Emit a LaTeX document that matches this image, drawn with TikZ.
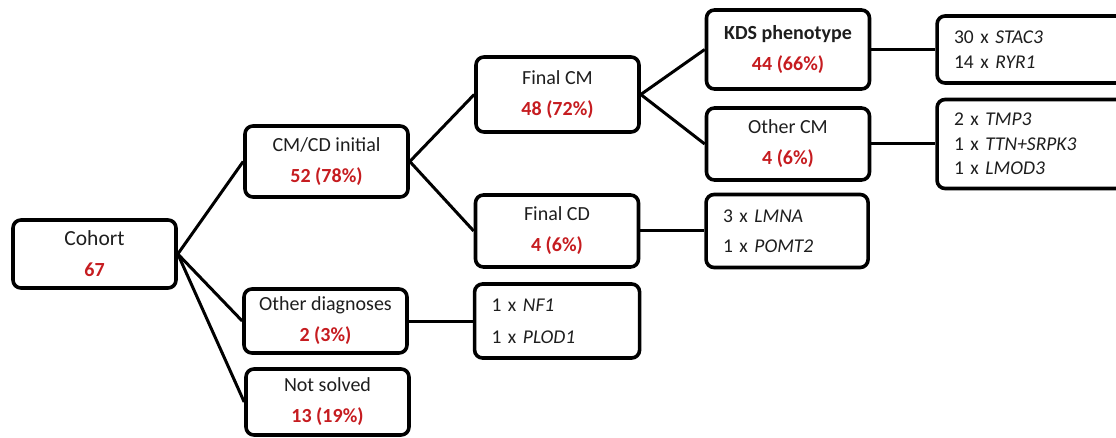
\documentclass[tikz,border=0pt]{standalone}
\usepackage{fontspec}
\setmainfont{Carlito}
\usetikzlibrary{positioning}
\definecolor{pct}{RGB}{198,28,32}
\definecolor{ink}{RGB}{30,30,30}
\tikzstyle{catbox}=[draw=black,line width=3.6pt,rounded corners=8pt,fill=white,text=ink,align=center,minimum width=163pt,inner sep=2pt,font=\fontsize{20}{31}\selectfont]
\tikzstyle{genebox}=[draw=black,line width=3.6pt,rounded corners=8pt,fill=white,text=ink,align=left,inner xsep=17pt,inner ysep=2pt,font=\fontsize{19.5}{24.5}\selectfont]
\newcommand{\category}[5]{\node[catbox,minimum height=#4] (#1) at #5 {#2\\{\color{pct}\bfseries #3}};}
\newcommand{\genes}[3]{\node[genebox,#3] (#1) {#2};}
\newcommand{\myedge}[2]{\draw[line width=3pt] (#1.east) -- (#2.west);}
\tikzset{node distance=64pt}

\begin{document}
\begin{tikzpicture}[x=1pt,y=-1pt]
    \clip (0,0) rectangle (1116,438);

    \category{cohort}{{\fontsize{21.5}{31}\selectfont Cohort}}{67}{68pt}{(94.5,254)}
    \category{cmcd}{CM/CD initial}{52 (78\%)}{71pt}{(326.5,161.5)}
    \category{otherdx}{Other diagnoses}{2 (3\%)}{64pt}{(325.5,321)}
    \category{unsolved}{Not solved}{13 (19\%)}{66pt}{(327.5,402)}
    \category{finalcm}{Final CM}{48 (72\%)}{75pt}{(557.5,94.5)}
    \category{finalcd}{Final CD}{4 (6\%)}{72pt}{(557,231)}
    \category{kds}{\textbf{KDS phenotype}}{44 (66\%)}{79pt}{(788,49.5)}
    \category{othercm}{Other CM}{4 (6\%)}{72pt}{(788,144)}

    \genes{kdsgenes}{30 x \textit{STAC3}\\14 x \textit{RYR1}}{right=of kds,text width=200pt,minimum height=67pt}
    \genes{cmgenes}{2 x \textit{TMP3}\\1 x \textit{TTN+SRPK3}\\1 x \textit{LMOD3}}{right=of othercm,text width=200pt,minimum height=89pt}
    \genes{cdgenes}{3 x \textit{LMNA}\\[5.5pt]1 x \textit{POMT2}}{right=of finalcd,text width=128pt,minimum height=73pt}
    \genes{dxgenes}{1 x \textit{NF1}\\[7.5pt]1 x \textit{PLOD1}}{right=of otherdx,text width=131pt,minimum height=74pt}

    \myedge{cohort}{cmcd}
    \myedge{cohort}{otherdx}
    \myedge{cohort}{unsolved}
    \myedge{cmcd}{finalcm}
    \myedge{cmcd}{finalcd}
    \myedge{finalcm}{kds}
    \myedge{finalcm}{othercm}
    \myedge{kds}{kdsgenes}
    \myedge{othercm}{cmgenes}
    \myedge{finalcd}{cdgenes}
    \myedge{otherdx}{dxgenes}
\end{tikzpicture}
\end{document}
